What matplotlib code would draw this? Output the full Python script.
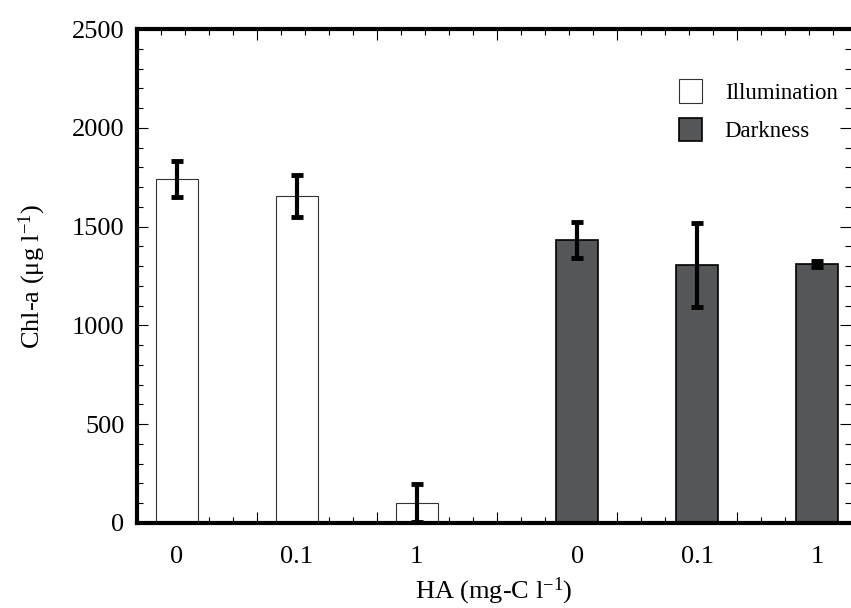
import numpy as np
import matplotlib
matplotlib.use("Agg")
import matplotlib.pyplot as plt
from matplotlib.ticker import MultipleLocator

plt.rcParams['font.family'] = ['Liberation Serif', 'DejaVu Serif']
plt.rcParams['mathtext.fontset'] = 'custom'
plt.rcParams['mathtext.rm'] = 'Liberation Serif'
plt.rcParams['mathtext.it'] = 'Liberation Serif:italic'

# data
ha_labels = ['0', '0.1', '1']
illum_mean = [1740, 1655, 100]
illum_err = [90, 105, 95]
dark_mean = [1432, 1305, 1313]
dark_err = [92, 212, 15]

fig = plt.figure(figsize=(8.51, 6.08), dpi=100)
ax = fig.add_axes([0.161, 0.140, 0.839, 0.812])

w = 0.35
x_il = np.arange(3) + 0.33
x_dk = np.arange(3) + 3.67

ax.bar(x_il, illum_mean, w, color='white', edgecolor='#333333', linewidth=0.8,
       label='Illumination', zorder=2)
ax.bar(x_dk, dark_mean, w, color='#555658', edgecolor='black', linewidth=1.2,
       label='Darkness', zorder=2)
ax.errorbar(x_il, illum_mean, yerr=illum_err, fmt='none', ecolor='black',
            elinewidth=3, capsize=4.5, capthick=3.5, zorder=3)
ax.errorbar(x_dk, dark_mean, yerr=dark_err, fmt='none', ecolor='black',
            elinewidth=3, capsize=4.5, capthick=3.5, zorder=3)

ax.set_xlim(0, 5.95)
ax.set_ylim(0, 2500)

ax.xaxis.set_major_locator(MultipleLocator(1))
ax.xaxis.set_minor_locator(MultipleLocator(0.2))
ax.yaxis.set_major_locator(MultipleLocator(500))
ax.yaxis.set_minor_locator(MultipleLocator(100))
ax.tick_params(axis='x', which='both', direction='in', top=True, bottom=True,
               labelbottom=False)
ax.tick_params(axis='y', which='both', direction='in', left=True, right=True,
               labelsize=19, pad=9)
ax.tick_params(which='major', length=8, width=0.8)
ax.tick_params(which='minor', length=4.5, width=0.8)

sec = ax.secondary_xaxis('bottom')
sec.set_xticks(np.concatenate([x_il, x_dk]), ha_labels + ha_labels)
sec.tick_params(length=0, labelsize=19, pad=17)
sec.spines['bottom'].set_visible(False)

for s in ['left', 'bottom', 'top']:
    ax.spines[s].set_linewidth(3)
ax.spines['right'].set_visible(False)

ax.set_ylabel('Chl-a (μg l$^{-1}$)', fontsize=19, labelpad=17)
sec.set_xlabel('HA (mg-C l$^{-1}$)', fontsize=19, labelpad=5)

ax.legend(loc='upper left', bbox_to_anchor=(0.73, 0.94), frameon=False,
          fontsize=16.5, handlelength=1.0, handleheight=1.2, handletextpad=1.0,
          labelspacing=0.6)

fig.savefig('out.png', dpi=100)
